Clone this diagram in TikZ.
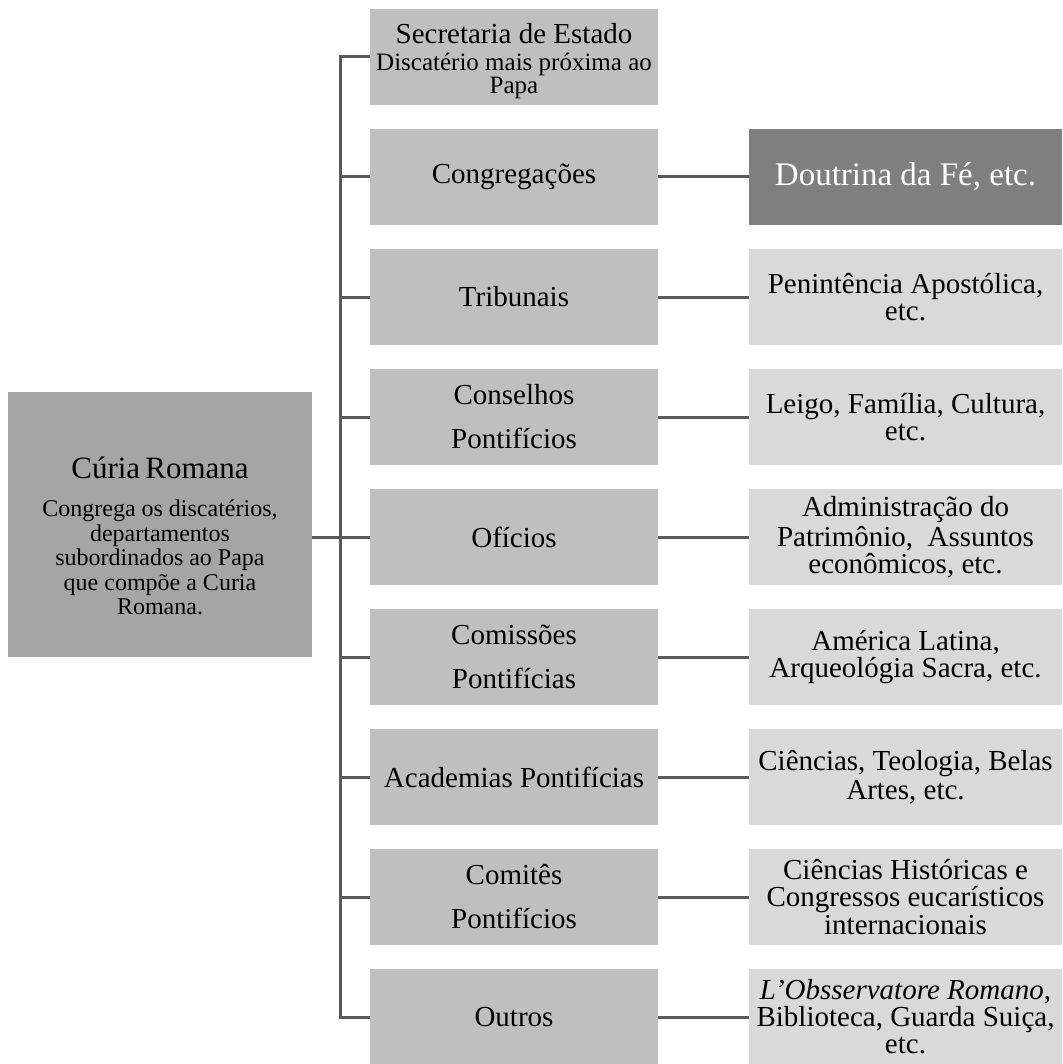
\documentclass[tikz,border=0pt]{standalone}
\usepackage{fontspec}
\setmainfont{Liberation Serif}
\definecolor{linec}{HTML}{595959}
\definecolor{midc}{HTML}{BFBFBF}
\definecolor{leftc}{HTML}{A5A5A5}
\definecolor{rightc}{HTML}{D9D9D9}
\definecolor{darkc}{HTML}{7F7F7F}
\newcommand{\topstrut}[1]{\rule{0pt}{#1}}
\begin{document}
\begin{tikzpicture}[x=1pt,y=-1pt,
  midbox/.style={fill=midc, minimum width=288pt, minimum height=96pt, inner sep=0pt, align=center, font=\fontsize{29}{26}\selectfont},
  rightbox/.style={fill=rightc, minimum width=313pt, minimum height=96pt, inner sep=0pt, align=center, font=\fontsize{29}{25}\selectfont},
  leftbox/.style={fill=leftc, minimum width=304pt, minimum height=265pt, inner sep=0pt, align=center, font=\fontsize{24}{22.5}\selectfont},
  darkbox/.style={fill=darkc, text=white, minimum width=313pt, minimum height=96pt, inner sep=0pt, align=center, font=\fontsize{33}{30}\selectfont},
  conn/.style={draw=linec, line width=3pt}]
\useasboundingbox (0,0) rectangle (1062,1064);

% left box
\node[leftbox] (cur) at (160,524.5) {\topstrut{44pt}\fontsize{31}{31}\selectfont Cúria\,Romana\\[16pt]
  Congrega os discatérios,\\[2pt] departamentos\\[2pt] subordinados ao Papa\\[2pt] que compõe a Curia\\[2pt] Romana.};

% middle column
\node[midbox, font=\fontsize{25}{22}\selectfont] (sec) at (514,57) {\topstrut{28pt}\fontsize{29}{29}\selectfont Secretaria de Estado\\[5pt] Discatério mais próxima ao\\[1pt] Papa};
\node[midbox] (cong) at (514,177) {Congregações};
\node[midbox] (trib) at (514,297) {Tribunais};
\node[midbox] (cons) at (514,417) {Conselhos\\[18pt] Pontifícios};
\node[midbox] (ofi) at (514,537) {Ofícios};
\node[midbox] (com) at (514,657) {Comissões\\[18pt] Pontifícias};
\node[midbox] (acad) at (514,777) {Academias Pontifícias};
\node[midbox] (comi) at (514,897) {Comitês\\[18pt] Pontifícios};
\node[midbox] (out) at (514,1017) {Outros};

% right column
\node[darkbox] (r1) at (905.5,177) {Doutrina da Fé, etc.};
\node[rightbox] (r2) at (905.5,297) {Penintência Apostólica,\\[2pt] etc.};
\node[rightbox] (r3) at (905.5,417) {Leigo, Família, Cultura,\\[2pt] etc.};
\node[rightbox] (r4) at (905.5,537) {Administração do\\[2pt] Patrimônio,\ \ Assuntos\\[2pt] econômicos, etc.};
\node[rightbox] (r5) at (905.5,657) {América Latina,\\[2pt] Arqueológia Sacra, etc.};
\node[rightbox] (r6) at (905.5,777) {Ciências, Teologia, Belas\\[2pt] Artes, etc.};
\node[rightbox] (r7) at (905.5,897) {Ciências Históricas e\\[2pt] Congressos eucarísticos\\[2pt] internacionais};
\node[rightbox] (r8) at (905.5,1017) {\textit{L'Obsservatore Romano},\\[2pt] Biblioteca, Guarda Suiça,\\[2pt] etc.};

% trunk
\coordinate (tk) at (340,0);
\draw[conn] (sec.west) -- (tk |- sec.west) -- (tk |- out.west) -- (out.west);
\foreach \m in {cong,trib,cons,ofi,com,acad,comi}
  \draw[conn] (tk |- \m.west) -- (\m.west);
\draw[conn] (cur.east |- ofi.west) -- (tk |- ofi.west);

% right connectors
\draw[conn] (cong.east) -- (r1.west);
\draw[conn] (trib.east) -- (r2.west);
\draw[conn] (cons.east) -- (r3.west);
\draw[conn] (ofi.east) -- (r4.west);
\draw[conn] (com.east) -- (r5.west);
\draw[conn] (acad.east) -- (r6.west);
\draw[conn] (comi.east) -- (r7.west);
\draw[conn] (out.east) -- (r8.west);
\end{tikzpicture}
\end{document}
